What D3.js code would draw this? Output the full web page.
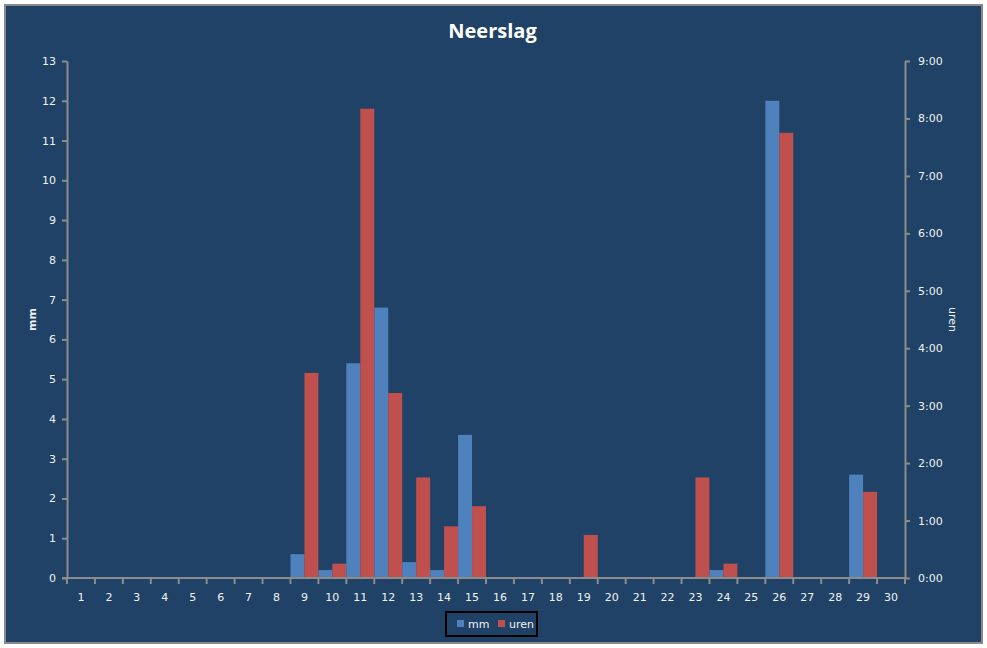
<!DOCTYPE html>
<html>
<head>
<meta charset="utf-8">
<script src="https://cdn.jsdelivr.net/npm/d3@7"></script>
<style>
  body { margin: 0; background: #fff; }
  text { font-family: "DejaVu Sans", Verdana, sans-serif; fill: #f2f2f2; }
</style>
</head>
<body>
<div id="chart"></div>
<script>
// data
const days = ["1","2","3","4","5","6","7","8","9","10","11","12","13","14","15",
              "16","17","18","19","20","21","22","23","24","25","26","27","28","29","30"];
const mm = [0,0,0,0,0,0,0,0,0.6,0.2,5.4,6.8,0.4,0.2,3.6,0,0,0,0,0,0,0,0,0.2,0,12,0,0,2.6,0];
// hours of precipitation
const uren = [0,0,0,0,0,0,0,0,3.57,0.25,8.17,3.22,1.75,0.9,1.25,0,0,0,0.75,0,0,0,1.75,0.25,0,7.75,0,0,1.5,0];
const mmTicks = [0,1,2,3,4,5,6,7,8,9,10,11,12,13];
const urenTicks = ["0:00","1:00","2:00","3:00","4:00","5:00","6:00","7:00","8:00","9:00"];
const seriesNames = ["mm", "uren"];

const W = 987, H = 648;
const colors = {mm: "#4f81bd", uren: "#c0504d"};
const bg = "#1f4266", axisCol = "#8c8c8c";

// plot area
const margin = {top: 61, right: 82, bottom: 70, left: 67};
const width = W - margin.left - margin.right,
      height = H - margin.top - margin.bottom;

const svg = d3.select("#chart")
    .append("svg")
    .attr("width", W)
    .attr("height", H);

// chart frame
svg.append("rect")
    .attr("x", 5).attr("y", 5)
    .attr("width", W - 10).attr("height", H - 10)
    .attr("fill", bg)
    .attr("stroke", "#8a8a8a")
    .attr("stroke-width", 2);

svg.append("text")
    .attr("x", W / 2 - 1).attr("y", 38)
    .attr("text-anchor", "middle")
    .style("font-family", "'Open Sans', sans-serif")
    .style("font-weight", "bold")
    .style("font-size", "20px")
    .style("fill", "#ffffff")
    .text("Neerslag");

const g = svg.append("g")
    .attr("transform", `translate(${margin.left},${margin.top})`);

// scales
const x = d3.scaleBand()
    .domain(days)
    .range([0, width])
    .padding(0);
const xSub = d3.scaleBand()
    .domain(seriesNames)
    .range([0, x.bandwidth()]);
const yL = d3.scaleLinear().domain([0, 13]).range([height, 0]);
const yR = d3.scaleLinear().domain([0, 9]).range([height, 0]);

// bars
const barData = days.map((d, i) => ({day: d, mm: mm[i], uren: uren[i]}));
g.selectAll("g.day")
    .data(barData)
    .join("g")
    .attr("class", "day")
    .attr("transform", d => `translate(${x(d.day)},0)`)
    .selectAll("rect")
    .data(d => seriesNames.map(s => ({key: s, value: d[s]})))
    .join("rect")
    .attr("x", d => xSub(d.key))
    .attr("width", xSub.bandwidth())
    .attr("y", d => d.key === "mm" ? yL(d.value) : yR(d.value))
    .attr("height", d => d.key === "mm" ? height - yL(d.value) : height - yR(d.value))
    .attr("fill", d => colors[d.key]);

// axes
function styleAxis(sel) {
    sel.select(".domain").attr("stroke", axisCol).attr("stroke-width", 2);
    sel.selectAll(".tick line").attr("stroke", axisCol).attr("stroke-width", 2);
    sel.selectAll(".tick text").style("font-size", "11px").style("fill", "#f2f2f2");
}

const leftAxis = g.append("g")
    .call(d3.axisLeft(yL).tickValues(mmTicks).tickSize(5).tickSizeOuter(0).tickPadding(6));
styleAxis(leftAxis);

const rightAxis = g.append("g")
    .attr("transform", `translate(${width},0)`)
    .call(d3.axisRight(yR).tickValues(d3.range(urenTicks.length))
        .tickFormat(i => urenTicks[i]).tickSize(5).tickSizeOuter(0).tickPadding(8));
styleAxis(rightAxis);

// x axis: ticks between categories
const xAxis = g.append("g")
    .attr("transform", `translate(0,${height})`)
    .call(d3.axisBottom(x).tickSize(0).tickPadding(15));
styleAxis(xAxis);
xAxis.select(".domain").attr("d", `M-5,0H${width + 2}`);
xAxis.selectAll("line.sep")
    .data(days.concat(["end"]))
    .join("line")
    .attr("class", "sep")
    .attr("x1", (d, i) => i * x.step())
    .attr("x2", (d, i) => i * x.step())
    .attr("y1", 0).attr("y2", 6)
    .attr("stroke", axisCol)
    .attr("stroke-width", 2);

// axis titles
svg.append("text")
    .attr("transform", `translate(36,${margin.top + height / 2}) rotate(-90)`)
    .attr("text-anchor", "middle")
    .style("font-size", "11px")
    .style("font-weight", "bold")
    .text("mm");
svg.append("text")
    .attr("transform", `translate(949,${margin.top + height / 2}) rotate(90)`)
    .attr("text-anchor", "middle")
    .style("font-size", "11px")
    .text("uren");

// legend
const legend = svg.append("g").attr("transform", "translate(446,612)");
legend.append("rect")
    .attr("width", 91).attr("height", 24)
    .attr("fill", "none")
    .attr("stroke", "#000")
    .attr("stroke-width", 2);
const items = legend.selectAll("g.item")
    .data(seriesNames)
    .join("g")
    .attr("class", "item")
    .attr("transform", (d, i) => `translate(${11 + i * 41},8)`);
items.append("rect")
    .attr("width", 7).attr("height", 7)
    .attr("fill", d => colors[d]);
items.append("text")
    .attr("x", 11).attr("y", 8)
    .style("font-size", "11px")
    .text(d => d);
</script>
</body>
</html>
